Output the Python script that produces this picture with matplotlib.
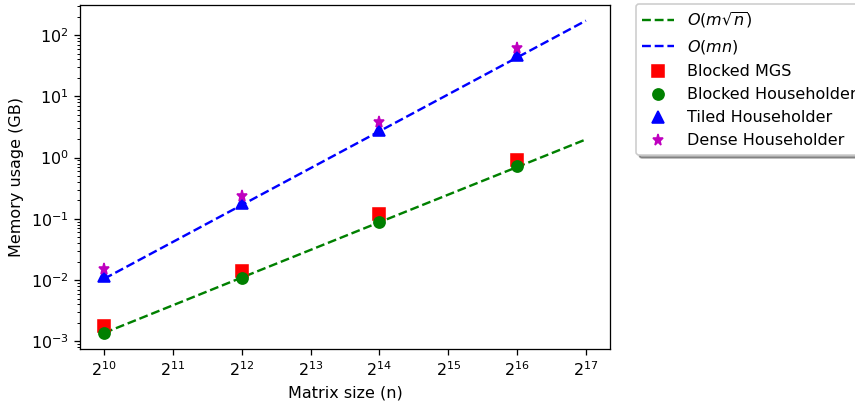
import numpy as np
import matplotlib
matplotlib.use("Agg")
import matplotlib.pyplot as plt

# Matrix sizes (n) where measurements were taken
n_vals = [2**10, 2**12, 2**14, 2**16]
# Points for the reference lines
n_line = [2**10, 2**12, 2**14, 2**16, 2**17]

# Reference scaling lines (GB)
line_mrootn = [1.37e-3, 1.1e-2, 8.8e-2, 0.70, 1.98]
line_mn = [1.05e-2, 0.168, 2.69, 43.0, 172.0]

# Measured memory usage (GB)
blocked_mgs = [1.75e-3, 0.0142, 0.12, 0.93]
blocked_house = [1.35e-3, 0.011, 0.089, 0.72]
tiled_house = [0.0117, 0.18, 2.87, 47.0]
dense_house = [0.0153, 0.234, 3.87, 61.0]

DPI = 115
fig = plt.figure(figsize=(855 / DPI, 402 / DPI), dpi=DPI)
ax = fig.add_axes([80 / 855, 1 - 349 / 402, 530 / 855, 344 / 402])

ax.plot(n_line, line_mrootn, 'g--', label=r'$O(m\sqrt{n})$')
ax.plot(n_line, line_mn, 'b--', label=r'$O(mn)$')
ax.plot(n_vals, blocked_mgs, 'rs', markersize=7, label='Blocked MGS')
ax.plot(n_vals, blocked_house, 'go', markersize=7, label='Blocked Householder')
ax.plot(n_vals, tiled_house, 'b^', markersize=7, label='Tiled Householder')
ax.plot(n_vals, dense_house, 'm*', markersize=7, label='Dense Householder')

ax.set_xscale('log', base=2)
ax.set_yscale('log')
ax.set_xlabel('Matrix size (n)')
ax.set_ylabel('Memory usage (GB)')

ax.legend(loc='upper left', bbox_to_anchor=(1.034, 1.026), shadow=True)

fig.savefig('out.png', dpi=DPI)
